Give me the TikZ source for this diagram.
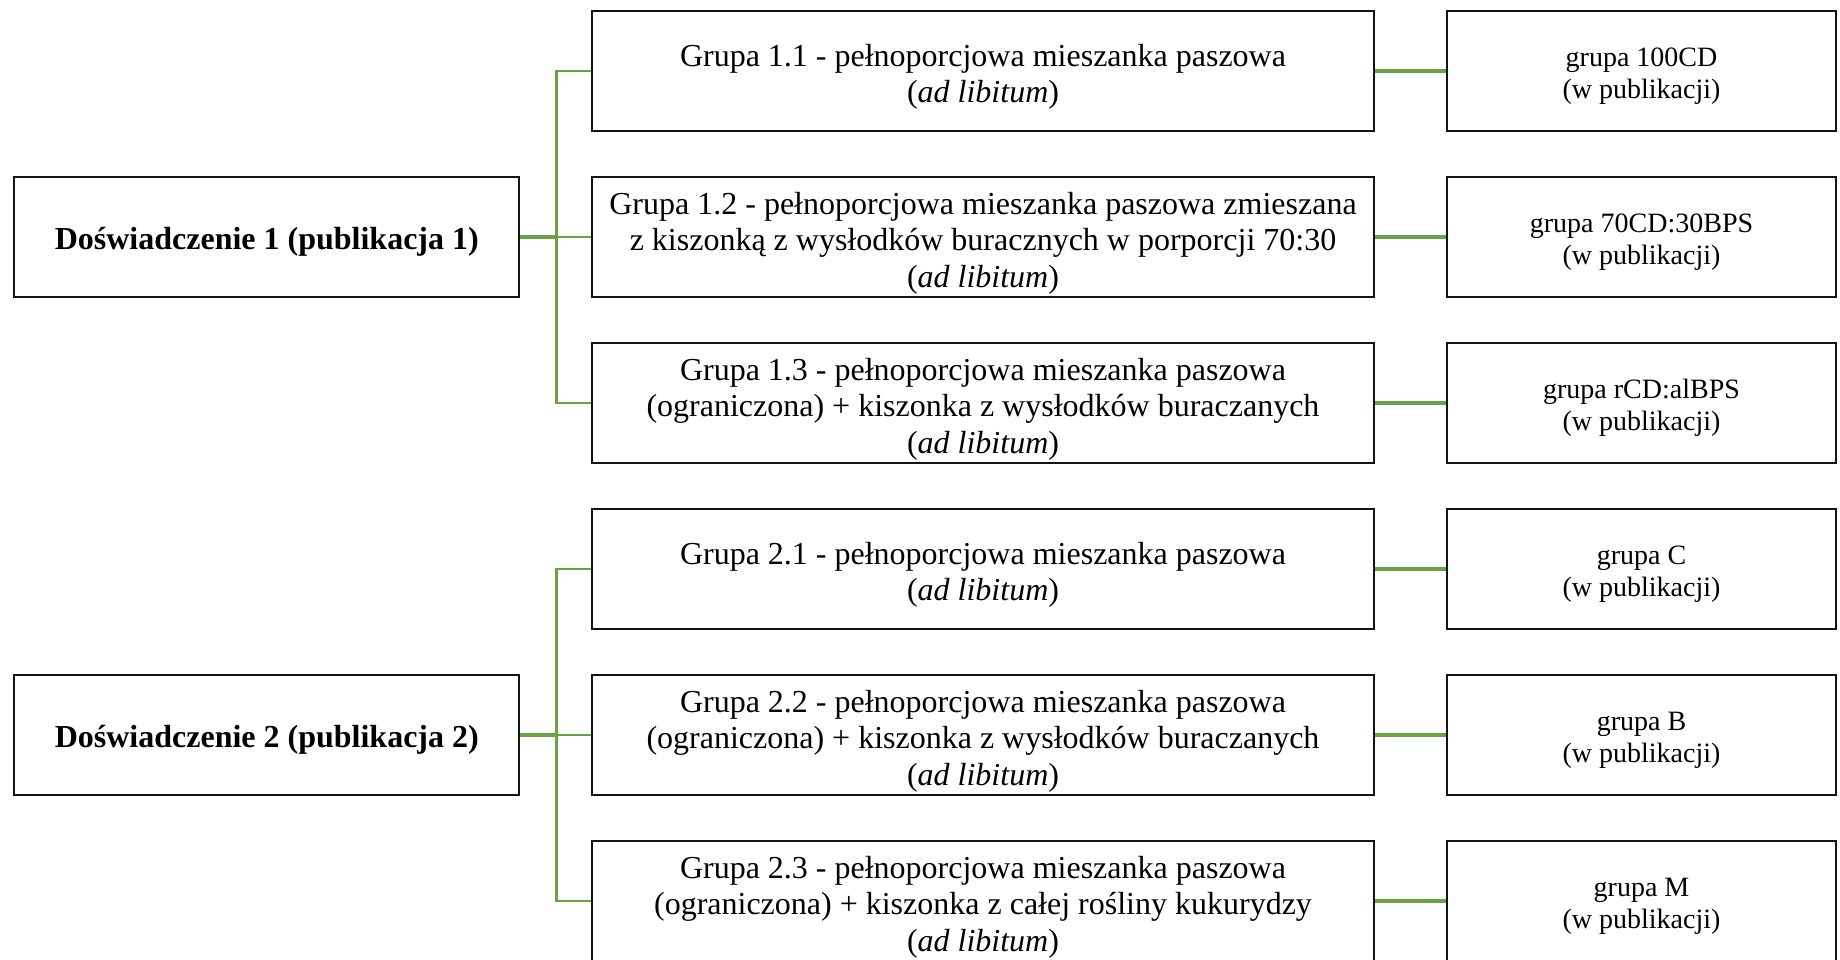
\documentclass[tikz,border=0pt]{standalone}
\usepackage{fontspec}
\setmainfont{Liberation Serif}
\definecolor{lgreen}{HTML}{6AA343}
\definecolor{bord}{HTML}{141414}
\newcommand\mstr{\rule{0pt}{17pt}}
\newcommand\rstr{\rule{0pt}{14.4pt}}
\newcommand\lstr{\rule{0pt}{15.6pt}}
\tikzset{
  midbox/.style={draw=bord, line width=0.9pt, minimum width=391pt, minimum height=60pt, inner sep=0pt, align=center, font=\fontsize{16pt}{18.2pt}\selectfont},
  rbox/.style={draw=bord, line width=0.9pt, minimum width=194.5pt, minimum height=60pt, inner sep=0pt, align=center, font=\fontsize{14pt}{15.8pt}\selectfont},
  lbox/.style={draw=bord, line width=0.9pt, minimum width=252.5pt, minimum height=60pt, inner sep=0pt, align=center, font=\fontsize{16pt}{18.2pt}\selectfont\bfseries},
  trunkline/.style={draw=lgreen, line width=1.2pt},
  stubline/.style={draw=lgreen, line width=2.2pt},
  rline/.style={draw=lgreen, line width=1.7pt}
}
\begin{document}
\begin{tikzpicture}[x=0.5pt,y=-0.5pt]
\useasboundingbox[fill=white] (0,0) rectangle (1840,959);
% left boxes
\node[lbox] (L1) at (266.8,237) {\lstr Doświadczenie 1 (publikacja 1)};
\node[lbox] (L2) at (266.8,735) {\lstr Doświadczenie 2 (publikacja 2)};
% middle boxes
\node[midbox] (m11) at (983,71) {\mstr Grupa 1.1 - pełnoporcjowa mieszanka paszowa\\(\textit{ad libitum})};
\node[midbox] (m12) at (983,237) {\mstr Grupa 1.2 - pełnoporcjowa mieszanka paszowa zmieszana\\z kiszonką z wysłodków buracznych w porporcji 70:30\\(\textit{ad libitum})};
\node[midbox] (m13) at (983,403) {\mstr Grupa 1.3 - pełnoporcjowa mieszanka paszowa\\(ograniczona) + kiszonka z wysłodków buraczanych\\(\textit{ad libitum})};
\node[midbox] (m21) at (983,569) {\mstr Grupa 2.1 - pełnoporcjowa mieszanka paszowa\\(\textit{ad libitum})};
\node[midbox] (m22) at (983,735) {\mstr Grupa 2.2 - pełnoporcjowa mieszanka paszowa\\(ograniczona) + kiszonka z wysłodków buraczanych\\(\textit{ad libitum})};
\node[midbox] (m23) at (983,901) {\mstr Grupa 2.3 - pełnoporcjowa mieszanka paszowa\\(ograniczona) + kiszonka z całej rośliny kukurydzy\\(\textit{ad libitum})};
% right boxes
\node[rbox] (r11) at (1641.5,71) {\rstr grupa 100CD\\(w publikacji)};
\node[rbox] (r12) at (1641.5,237) {\rstr grupa 70CD:30BPS\\(w publikacji)};
\node[rbox] (r13) at (1641.5,403) {\rstr grupa rCD:alBPS\\(w publikacji)};
\node[rbox] (r21) at (1641.5,569) {\rstr grupa C\\(w publikacji)};
\node[rbox] (r22) at (1641.5,735) {\rstr grupa B\\(w publikacji)};
\node[rbox] (r23) at (1641.5,901) {\rstr grupa M\\(w publikacji)};
% trunk points
\coordinate (t1) at (556.3,237);
\coordinate (t2) at (556.3,735);
% connectors group 1
\draw[trunkline] (m11.west) -| (t1) |- (m13.west);
\draw[trunkline] (t1) -- (m12.west);
\draw[stubline] (L1.east) -- (t1);
% connectors group 2
\draw[trunkline] (m21.west) -| (t2) |- (m23.west);
\draw[trunkline] (t2) -- (m22.west);
\draw[stubline] (L2.east) -- (t2);
% right connectors
\draw[rline] (m11.east) -- (r11.west);
\draw[rline] (m12.east) -- (r12.west);
\draw[rline] (m13.east) -- (r13.west);
\draw[rline] (m21.east) -- (r21.west);
\draw[rline] (m22.east) -- (r22.west);
\draw[rline] (m23.east) -- (r23.west);
\end{tikzpicture}
\end{document}
